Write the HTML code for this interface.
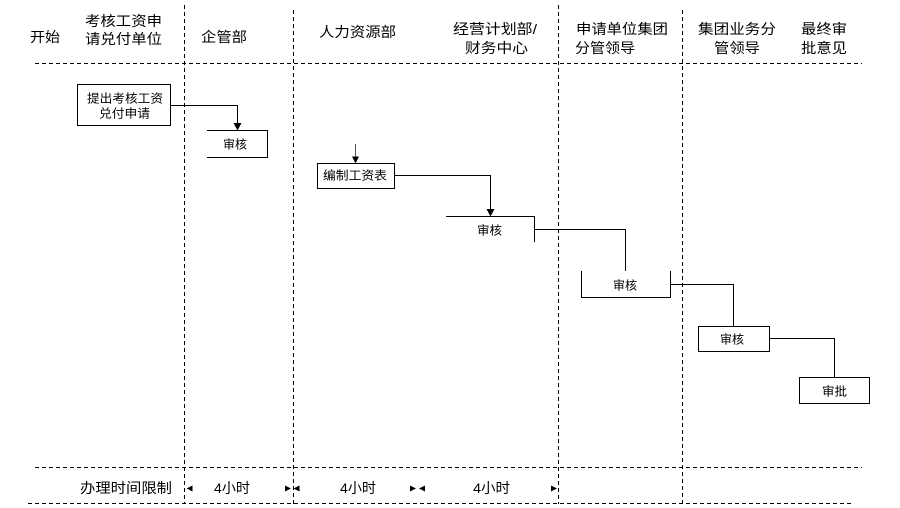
<!DOCTYPE html>
<html>
<head>
<meta charset="utf-8">
<style>
  html, body { margin: 0; padding: 0; background: #fff; }
  svg { display: block; }
  text { font-family: "Liberation Sans", "Noto Sans CJK SC", sans-serif; fill: #000; }
</style>
</head>
<body>
<svg width="900" height="508" viewBox="0 0 900 508" xmlns="http://www.w3.org/2000/svg">
  <rect x="0" y="0" width="900" height="508" fill="#fff"/>

  <!-- dashed grid -->
  <g stroke="#000" stroke-width="1" stroke-dasharray="4 3" fill="none">
    <line x1="35" y1="63.5" x2="862" y2="63.5"/>
    <line x1="35" y1="467.5" x2="862" y2="467.5"/>
    <line x1="28" y1="503.5" x2="853" y2="503.5"/>
    <line x1="184.5" y1="5" x2="184.5" y2="504"/>
    <line x1="293.5" y1="10" x2="293.5" y2="504"/>
    <line x1="558.5" y1="5" x2="558.5" y2="504"/>
    <line x1="682.5" y1="10" x2="682.5" y2="504"/>
  </g>

  <!-- header texts -->
  <g font-size="14">
    <text x="30" y="42" textLength="30" lengthAdjust="spacingAndGlyphs">开始</text>
    <text x="85" y="26" textLength="77" lengthAdjust="spacingAndGlyphs">考核工资申</text>
    <text x="85" y="44" textLength="77" lengthAdjust="spacingAndGlyphs">请兑付单位</text>
    <text x="201" y="42" textLength="46" lengthAdjust="spacingAndGlyphs">企管部</text>
    <text x="319" y="37" textLength="77" lengthAdjust="spacingAndGlyphs">人力资源部</text>
    <text x="453" y="34" textLength="84" lengthAdjust="spacingAndGlyphs">经营计划部/</text>
    <text x="465" y="53" textLength="63" lengthAdjust="spacingAndGlyphs">财务中心</text>
    <text x="576" y="34" textLength="92" lengthAdjust="spacingAndGlyphs">申请单位集团</text>
    <text x="575" y="53" textLength="60" lengthAdjust="spacingAndGlyphs">分管领导</text>
    <text x="698" y="34" textLength="78" lengthAdjust="spacingAndGlyphs">集团业务分</text>
    <text x="714" y="53" textLength="46" lengthAdjust="spacingAndGlyphs">管领导</text>
    <text x="801" y="34" textLength="46" lengthAdjust="spacingAndGlyphs">最终审</text>
    <text x="801" y="53" textLength="46" lengthAdjust="spacingAndGlyphs">批意见</text>
  </g>

  <!-- boxes -->
  <g stroke="#000" stroke-width="1" fill="none">
    <rect x="77.5" y="84.5" width="93" height="41"/>
    <path d="M207,130.5 H267.5 V157.5 H207"/>
    <rect x="317.5" y="163.5" width="77" height="25"/>
    <path d="M446,216.5 H534.5 V242"/>
    <path d="M581.5,271 V297.5 H670.5 V271"/>
    <rect x="698.5" y="326.5" width="71" height="25"/>
    <rect x="799.5" y="377.5" width="70" height="26"/>
  </g>

  <!-- connectors -->
  <g stroke="#000" stroke-width="1" fill="none">
    <path d="M171,105.5 H237.5 V124"/>
    <path d="M394,175.5 H490.5 V209"/>
    <path d="M534,229.5 H625.5 V271"/>
    <path d="M670,284.5 H733.5 V326"/>
    <path d="M769,338.5 H834.5 V377"/>
  </g>
  <line x1="355.5" y1="144" x2="355.5" y2="157" stroke="#555" stroke-width="1"/>

  <!-- arrowheads -->
  <g fill="#000">
    <polygon points="233.5,123 241.5,123 237.5,130.5"/>
    <polygon points="352,156.5 359,156.5 355.5,163.5"/>
    <polygon points="486.5,209 494.5,209 490.5,216.5"/>
  </g>

  <!-- box texts -->
  <g font-size="12">
    <text x="87" y="102.5" textLength="76" lengthAdjust="spacingAndGlyphs">提出考核工资</text>
    <text x="99" y="117.5" textLength="51" lengthAdjust="spacingAndGlyphs">兑付申请</text>
    <text x="223" y="148.5" textLength="24" lengthAdjust="spacingAndGlyphs">审核</text>
    <text x="323" y="179.5" textLength="64" lengthAdjust="spacingAndGlyphs">编制工资表</text>
    <text x="477" y="234.5" textLength="25" lengthAdjust="spacingAndGlyphs">审核</text>
    <text x="613" y="289.5" textLength="24" lengthAdjust="spacingAndGlyphs">审核</text>
    <text x="720" y="343.5" textLength="24" lengthAdjust="spacingAndGlyphs">审核</text>
    <text x="822" y="395.5" textLength="25" lengthAdjust="spacingAndGlyphs">审批</text>
  </g>

  <!-- bottom row -->
  <g font-size="14">
    <text x="80" y="493" textLength="92" lengthAdjust="spacingAndGlyphs">办理时间限制</text>
    <text x="214" y="493" textLength="36" lengthAdjust="spacingAndGlyphs">4小时</text>
    <text x="340" y="493" textLength="36" lengthAdjust="spacingAndGlyphs">4小时</text>
    <text x="473" y="493" textLength="37" lengthAdjust="spacingAndGlyphs">4小时</text>
  </g>
  <g fill="#000">
    <polygon points="186.5,488.5 192.5,485.5 192.5,491.5"/>
    <polygon points="285,485.5 291,488.5 285,491.5"/>
    <polygon points="293.5,488.5 299.5,485.5 299.5,491.5"/>
    <polygon points="410,485.5 416,488.5 410,491.5"/>
    <polygon points="419,488.5 425,485.5 425,491.5"/>
    <polygon points="551,485.5 557,488.5 551,491.5"/>
  </g>
</svg>
</body>
</html>
